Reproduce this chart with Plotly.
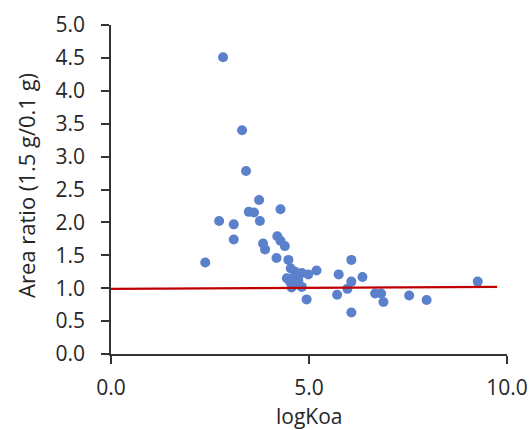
import plotly.graph_objects as go

log_koa = [2.83, 3.31, 3.41, 3.74, 3.48, 3.61, 4.28, 2.73, 3.10, 3.76, 3.10, 4.20, 4.28, 4.39, 3.84,
           3.89, 2.38, 4.18, 4.48, 4.54, 4.65, 4.82, 4.98, 5.19, 4.44, 4.60, 4.73, 4.52, 4.69, 4.56,
           4.82, 4.94, 5.75, 6.07, 6.35, 6.07, 5.97, 5.71, 6.07, 6.67, 6.82, 6.88, 7.53, 7.97, 9.26]
area_ratio = [4.51, 3.40, 2.78, 2.34, 2.16, 2.15, 2.20, 2.02, 1.97, 2.02, 1.74, 1.79, 1.72, 1.64, 1.68,
              1.59, 1.39, 1.46, 1.43, 1.30, 1.25, 1.23, 1.21, 1.27, 1.15, 1.15, 1.12, 1.10, 1.06, 1.01,
              1.02, 0.83, 1.21, 1.43, 1.17, 1.10, 0.99, 0.90, 0.63, 0.92, 0.92, 0.79, 0.89, 0.82, 1.10]
line_x = [0.0, 9.75]
line_y = [0.99, 1.02]
x_title = "logKoa"
y_title = "Area ratio (1.5 g/0.1 g)"

font_family = "Open Sans, Noto Sans, sans-serif"
axis_col = "#333333"
text_col = "#262626"

fig = go.Figure()
fig.add_trace(go.Scatter(x=log_koa, y=area_ratio, mode="markers",
                         marker=dict(size=10, color="#5B80CC"), showlegend=False,
                         cliponaxis=False))
fig.add_trace(go.Scatter(x=line_x, y=line_y, mode="lines",
                         line=dict(color="#C00000", width=2.2), showlegend=False))

fig.update_layout(
    width=530, height=430,
    margin=dict(l=111, r=23, t=25, b=76),
    paper_bgcolor="white", plot_bgcolor="white",
    font=dict(family=font_family, size=21, color=text_col),
)
fig.update_xaxes(range=[0, 10], tickvals=[0, 5, 10], ticktext=["0.0", "5.0", "10.0"],
                 showgrid=False, zeroline=False, showline=True, linecolor=axis_col, linewidth=1.5,
                 ticks="outside", ticklen=8, tickcolor=axis_col, tickwidth=1.5, automargin=False,
                 tickfont=dict(size=21), ticklabelstandoff=6)
fig.update_yaxes(range=[0, 5], dtick=0.5, tickformat=".1f",
                 showgrid=False, zeroline=False, showline=True, linecolor=axis_col, linewidth=1.5,
                 ticks="outside", ticklen=8, tickcolor=axis_col, tickwidth=1.5, automargin=False,
                 tickfont=dict(size=21), ticklabelstandoff=12)

fig.add_annotation(text=x_title, xref="paper", yref="paper", x=0.5, y=-0.188,
                   xanchor="center", yanchor="middle", showarrow=False,
                   font=dict(size=21, color=text_col))
fig.add_annotation(text=y_title, xref="paper", yref="paper", x=-0.2146, y=0.511,
                   xanchor="center", yanchor="middle", showarrow=False, textangle=-90,
                   font=dict(size=22, color=text_col))

fig.write_html("out.html")
